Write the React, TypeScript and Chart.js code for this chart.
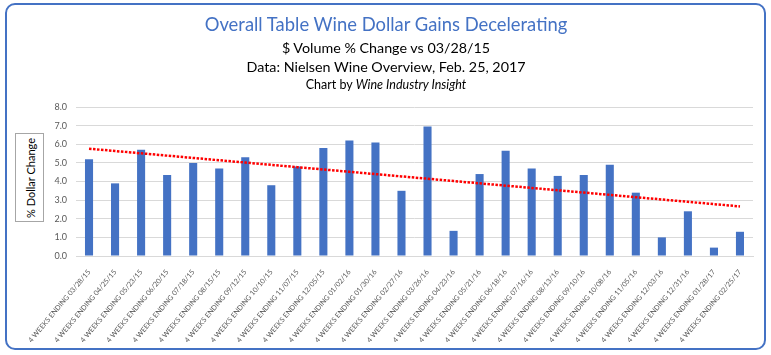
import React, { useEffect, useRef } from "react";
import { Chart, registerables } from "chart.js";

Chart.register(...registerables);

const categories = [
  "4 WEEKS ENDING 03/28/15",
  "4 WEEKS ENDING 04/25/15",
  "4 WEEKS ENDING 05/23/15",
  "4 WEEKS ENDING 06/20/15",
  "4 WEEKS ENDING 07/18/15",
  "4 WEEKS ENDING 08/15/15",
  "4 WEEKS ENDING 09/12/15",
  "4 WEEKS ENDING 10/10/15",
  "4 WEEKS ENDING 11/07/15",
  "4 WEEKS ENDING 12/05/15",
  "4 WEEKS ENDING 01/02/16",
  "4 WEEKS ENDING 01/30/16",
  "4 WEEKS ENDING 02/27/16",
  "4 WEEKS ENDING 03/26/16",
  "4 WEEKS ENDING 04/23/16",
  "4 WEEKS ENDING 05/21/16",
  "4 WEEKS ENDING 06/18/16",
  "4 WEEKS ENDING 07/16/16",
  "4 WEEKS ENDING 08/13/16",
  "4 WEEKS ENDING 09/10/16",
  "4 WEEKS ENDING 10/08/16",
  "4 WEEKS ENDING 11/05/16",
  "4 WEEKS ENDING 12/03/16",
  "4 WEEKS ENDING 12/31/16",
  "4 WEEKS ENDING 01/28/17",
  "4 WEEKS ENDING 02/25/17",
];

const dollarChange = [
  5.2, 3.9, 5.7, 4.35, 5.0, 4.7, 5.3, 3.8, 4.8, 5.8, 6.2, 6.1, 3.5,
  6.95, 1.35, 4.4, 5.65, 4.7, 4.3, 4.35, 4.9, 3.4, 1.0, 2.4, 0.45, 1.3,
];

const yTicks = [0, 1, 2, 3, 4, 5, 6, 7, 8];

const titleText = "Overall Table Wine Dollar Gains Decelerating";
const subtitle1 = "$ Volume % Change vs 03/28/15";
const subtitle2 = "Data: Nielsen Wine Overview, Feb. 25, 2017";
const creditPrefix = "Chart by ";
const creditName = "Wine Industry Insight";
const yAxisTitle = "% Dollar Change";

// Least-squares linear trendline fitted to the series (like Excel's trendline)
function linearTrend(values: number[]): number[] {
  const n = values.length;
  let sx = 0, sy = 0, sxy = 0, sxx = 0;
  values.forEach((v, i) => {
    const x = i + 1;
    sx += x; sy += v; sxy += x * v; sxx += x * x;
  });
  const slope = (n * sxy - sx * sy) / (n * sxx - sx * sx);
  const intercept = (sy - slope * sx) / n;
  return values.map((_, i) => intercept + slope * (i + 1));
}

const FONT = "Lato, 'Open Sans', sans-serif";
const BLUE = "#4472C4";

export default function App() {
  const canvasRef = useRef<HTMLCanvasElement | null>(null);

  useEffect(() => {
    if (!canvasRef.current) return;
    const chart = new Chart(canvasRef.current, {
      type: "bar",
      data: {
        labels: categories,
        datasets: [
          {
            type: "line",
            label: "Trend",
            data: linearTrend(dollarChange),
            borderColor: "#FF0000",
            borderWidth: 2.5,
            borderDash: [2.5, 1.5],
            pointRadius: 0,
            fill: false,
            order: 0,
          } as any,
          {
            type: "bar",
            label: "% Dollar Change",
            data: dollarChange,
            backgroundColor: BLUE,
            barPercentage: 0.31,
            categoryPercentage: 1,
            order: 1,
          },
        ],
      },
      options: {
        responsive: false,
        animation: false,
        layout: { padding: { left: 0, right: 18, top: 107, bottom: 0 } },
        plugins: {
          legend: { display: false },
          tooltip: { enabled: false },
          title: { display: false },
        },
        scales: {
          x: {
            grid: { display: false },
            border: { display: true, color: "#D9D9D9" },
            ticks: {
              autoSkip: false,
              maxRotation: 50,
              minRotation: 50,
              padding: 4,
              color: "#595959",
              font: { family: FONT, size: 7.1 },
            },
            afterFit: (s: any) => {
              s.height = 99;
            },
          },
          y: {
            min: 0,
            max: 8,
            afterBuildTicks: (s: any) => {
              s.ticks = yTicks.map((v) => ({ value: v }));
            },
            ticks: {
              padding: 9,
              color: "#595959",
              font: { family: FONT, size: 9 },
              callback: (v: any) => Number(v).toFixed(1),
            },
            grid: { color: "#D9D9D9", drawTicks: false, lineWidth: 1 },
            border: { display: false },
            afterFit: (s: any) => {
              s.width = 76;
            },
          },
        },
      },
    });
    return () => chart.destroy();
  }, []);

  const center = 386;
  const lineStyle: React.CSSProperties = {
    position: "absolute",
    left: 0,
    width: center * 2,
    textAlign: "center",
    fontFamily: FONT,
    whiteSpace: "nowrap",
    lineHeight: 1,
  };

  return (
    <div style={{ position: "fixed", left: 0, top: 0, width: 771, height: 355, background: "#fff" }}>
      <div
        style={{
          position: "absolute",
          left: 5,
          top: 3,
          width: 761,
          height: 347,
          boxSizing: "border-box",
          border: `2.6px solid ${BLUE}`,
          borderRadius: 10,
        }}
      />
      <canvas
        ref={canvasRef}
        width={771}
        height={355}
        style={{ position: "absolute", left: 0, top: 0, width: 771, height: 355 }}
      />
      <div style={{ ...lineStyle, top: 15, fontSize: 18.4, color: BLUE }}>{titleText}</div>
      <div style={{ ...lineStyle, top: 41, fontSize: 14.3, color: "#000" }}>{subtitle1}</div>
      <div style={{ ...lineStyle, top: 60, fontSize: 14.3, color: "#000" }}>{subtitle2}</div>
      <div style={{ ...lineStyle, top: 79, fontSize: 12.5, color: "#000" }}>
        {creditPrefix}
        <i>{creditName}</i>
      </div>
      <div
        style={{
          position: "absolute",
          left: 15,
          top: 133,
          width: 29,
          height: 89,
          boxSizing: "border-box",
          border: "1px solid #A6A6A6",
          background: "#fff",
        }}
      >
        <div
          style={{
            position: "absolute",
            left: "50%",
            top: "50%",
            transform: "translate(-50%, -50%) rotate(-90deg)",
            whiteSpace: "nowrap",
            fontFamily: FONT,
            fontSize: 11,
            color: "#000",
            lineHeight: 1,
          }}
        >
          {yAxisTitle}
        </div>
      </div>
    </div>
  );
}
